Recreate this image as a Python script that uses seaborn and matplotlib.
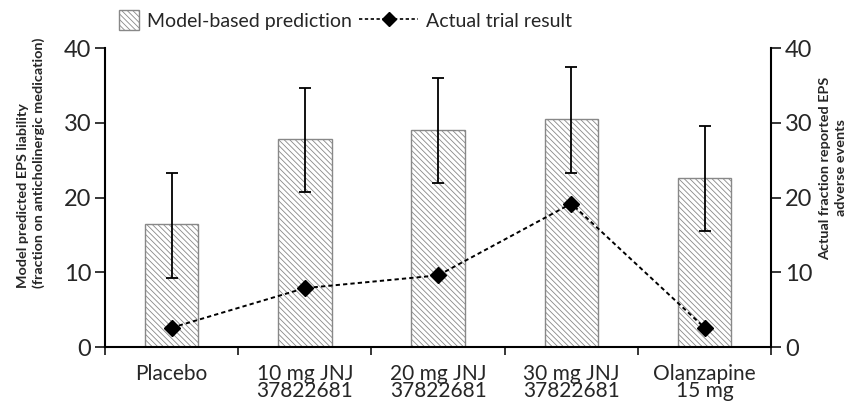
import matplotlib
matplotlib.use("Agg")
import matplotlib.pyplot as plt
import seaborn as sns
import numpy as np
import pandas as pd
from matplotlib.patches import Patch, Rectangle
from matplotlib.lines import Line2D
from matplotlib.legend_handler import HandlerPatch

categories = ["Placebo", "10 mg JNJ\n37822681", "20 mg JNJ\n37822681",
              "30 mg JNJ\n37822681", "Olanzapine\n15 mg"]
predicted = [16.5, 27.8, 29.1, 30.5, 22.6]
err_low = [9.3, 20.7, 21.9, 23.3, 15.5]
err_high = [23.3, 34.6, 36.0, 37.4, 29.6]
actual = [2.6, 7.9, 9.6, 19.2, 2.6]
yticks = [0, 10, 20, 30, 40]

sns.set_style("white")
plt.rcParams['font.family'] = ['Lato', 'DejaVu Sans']
plt.rcParams['hatch.color'] = '#777777'
plt.rcParams['hatch.linewidth'] = 0.6

HATCH = "\\\\\\\\\\\\"

fig = plt.figure(figsize=(8.54, 4.07), dpi=100)
ax = fig.add_axes([0.123, 0.147, 0.780, 0.735])

df = pd.DataFrame({"cat": categories, "pred": predicted})
sns.barplot(data=df, x="cat", y="pred", ax=ax, color="white", width=0.4,
            edgecolor="#888888", linewidth=1.0)
for p in ax.patches:
    p.set_facecolor("white")
    p.set_hatch(HATCH)

xpos = np.arange(len(categories))
mid = [(l + h) / 2 for l, h in zip(err_low, err_high)]
half = [(h - l) / 2 for l, h in zip(err_low, err_high)]
ax.errorbar(xpos, mid, yerr=half, fmt="none", ecolor="black",
            elinewidth=1.3, capsize=4.5, capthick=1.3, zorder=3)

ax.set_xlim(-0.5, len(categories) - 0.5)
ax.set_ylim(0, 40)
ax.set_yticks(yticks)
ax.set_xticks(xpos)
ax.set_xticklabels(categories, fontsize=15, linespacing=0.85)
ax.tick_params(axis="x", length=0, pad=12)
ax.set_xticks(np.arange(-0.5, len(categories) + 0.5, 1), minor=True)
ax.tick_params(axis="x", which="minor", length=6, width=1.3, direction="out", bottom=True)
ax.tick_params(axis="y", labelsize=17, length=7, width=1.3, direction="out", left=True, pad=3)
ax.set_xlabel("")
ax.set_ylabel("")
for s in ["top", "right"]:
    ax.spines[s].set_visible(False)
for s in ["left", "bottom"]:
    ax.spines[s].set_linewidth(1.5)
    ax.spines[s].set_color("black")

ax2 = ax.twinx()
ax2.plot(xpos, actual, linestyle=(0, (2.2, 1.6)), color="black", linewidth=1.4,
         marker="D", markersize=8, markerfacecolor="black", zorder=4)
ax2.set_ylim(0, 40)
ax2.set_yticks(yticks)
ax2.tick_params(axis="y", labelsize=17, length=7, width=1.3, direction="out", right=True, pad=3)
ax2.set_ylabel("")
for s in ["top", "left", "bottom"]:
    ax2.spines[s].set_visible(False)
ax2.spines["right"].set_linewidth(1.5)
ax2.spines["right"].set_color("black")

# axis titles
fig.text(31 / 854, 1 - 288 / 407,
         "Model predicted EPS liability\n(fraction on anticholinergic medication)",
         rotation=90, ha="center", va="bottom", multialignment="left",
         fontsize=10.4, fontweight="bold", linespacing=1.35)
fig.text(833 / 854, 1 - 168 / 407,
         "Actual fraction reported EPS\nadverse events",
         rotation=90, ha="center", va="center", multialignment="center",
         fontsize=10.4, fontweight="bold", linespacing=1.35)


class SquareHandler(HandlerPatch):
    def create_artists(self, legend, orig_handle, xdescent, ydescent, width,
                       height, fontsize, trans):
        side = height * 1.15
        r = Rectangle((width - side - xdescent, -ydescent - (side - height) / 2), side, side,
                      facecolor="white", edgecolor="#888888", hatch=HATCH, linewidth=1.0,
                      transform=trans)
        return [r]


handles = [Patch(facecolor="white", edgecolor="#888888", hatch=HATCH, linewidth=1.0),
           Line2D([0], [0], linestyle=(0, (2, 1.5)), color="black", linewidth=1.2,
                  marker="D", markersize=7)]
fig.legend(handles, ["Model-based prediction", "Actual trial result"],
           loc="center left", bbox_to_anchor=(0.074, 0.950), ncol=2, frameon=False,
           fontsize=14, handlelength=3.0, handleheight=1.0, columnspacing=0.4,
           handletextpad=0.4, handler_map={Patch: SquareHandler()})

fig.savefig("out.png", dpi=100)
